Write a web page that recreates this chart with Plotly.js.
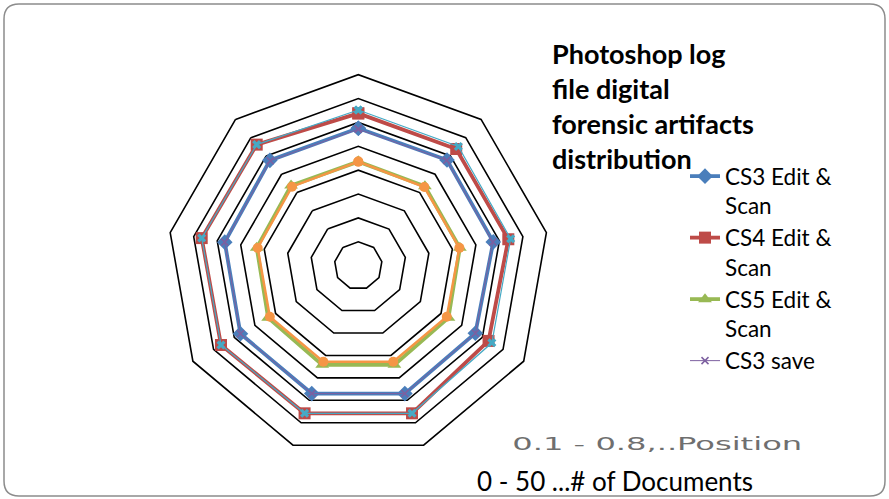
<!DOCTYPE html>
<html>
<head>
<meta charset="utf-8">
<script src="https://cdn.plot.ly/plotly-3.0.1.min.js"></script>
<style>html,body{margin:0;padding:0;background:#fff;}#chart{width:889px;height:499px;}</style>
</head>
<body>
<div id="chart"></div>
<script>
// Nine positions around the radar (labels not shown in the original)
var categories = ['P1','P2','P3','P4','P5','P6','P7','P8','P9'];

// Number of documents per position (axis 0-40)
var cs3EditScan = [28.8, 28.9, 28.7, 28.3, 28.5, 28.5, 28.5, 28.4, 28.8];
var cs4EditScan = [31.9, 31.9, 31.9, 31.5, 32.9, 32.9, 33.2, 33.3, 33.1];
var cs5EditScan = [21.8, 21.7, 21.6, 21.8, 22.1, 22.1, 21.8, 21.6, 21.9];
var cs3Save     = [28.6, 28.8, 28.6, 28.3, 28.5, 28.5, 28.5, 28.4, 28.7];
var cs4Save     = [32.6, 32.6, 32.4, 32.3, 32.9, 32.9, 33.2, 33.3, 33.1];
var cs5Save     = [21.8, 21.5, 21.5, 21.4, 21.4, 21.4, 21.4, 21.4, 21.6];

var seriesNames = ['CS3 Edit &<br>Scan', 'CS4 Edit &<br>Scan', 'CS5 Edit &<br>Scan', 'CS3 save', 'CS4 save', 'CS5 save'];

function closed(a){ return a.concat([a[0]]); }
var theta = closed(categories);

function tr(name, vals, color, width, symbol, msize, showleg){
  return {
    type: 'scatterpolar', mode: 'lines+markers', name: name,
    r: closed(vals), theta: theta,
    line: {color: color, width: width},
    marker: {symbol: symbol, size: msize, color: color, line: {width: 0}},
    showlegend: showleg, hoverinfo: 'skip'
  };
}

var data = [
  tr(seriesNames[0], cs3EditScan, '#4A7EBB', 3.8, 'diamond', 12, true),
  tr(seriesNames[1], cs4EditScan, '#BE4B48', 3.8, 'square', 12, true),
  tr(seriesNames[2], cs5EditScan, '#98B954', 3.8, 'triangle-up', 12, true),
  tr(seriesNames[3], cs3Save, '#7D60A0', 1, 'x-thin-open', 7, true),
  tr(seriesNames[4], cs4Save, '#46AAC5', 1.2, 'x', 8, false),
  tr(seriesNames[5], cs5Save, '#F59645', 2.5, 'circle', 10, false)
];
data[3].marker.line = {width: 1.5, color: '#7D60A0'};

var W = 889, H = 499;
var cx = 358.3, cy = 265.7, R = 191;

// rounded frame
var x0 = 4, x1 = 885, y0 = 4, y1 = 496, rr = 15;
function px(x){ return (x / W).toFixed(5); }
function py(y){ return (1 - y / H).toFixed(5); }
var framePath = 'M ' + px(x0 + rr) + ' ' + py(y0) +
  ' L ' + px(x1 - rr) + ' ' + py(y0) +
  ' Q ' + px(x1) + ' ' + py(y0) + ' ' + px(x1) + ' ' + py(y0 + rr) +
  ' L ' + px(x1) + ' ' + py(y1 - rr) +
  ' Q ' + px(x1) + ' ' + py(y1) + ' ' + px(x1 - rr) + ' ' + py(y1) +
  ' L ' + px(x0 + rr) + ' ' + py(y1) +
  ' Q ' + px(x0) + ' ' + py(y1) + ' ' + px(x0) + ' ' + py(y1 - rr) +
  ' L ' + px(x0) + ' ' + py(y0 + rr) +
  ' Q ' + px(x0) + ' ' + py(y0) + ' ' + px(x0 + rr) + ' ' + py(y0) + ' Z';

var layout = {
  width: W, height: H,
  margin: {l: 0, r: 0, t: 0, b: 0},
  paper_bgcolor: '#ffffff',
  plot_bgcolor: '#ffffff',
  font: {family: 'Lato, "Open Sans", sans-serif', color: '#000'},
  title: {
    text: '<b>Photoshop log<br>file digital<br>forensic artifacts<br>distribution</b>',
    x: 552 / W, xanchor: 'left', xref: 'paper',
    y: 1 - 64 / H, yanchor: 'top', yref: 'paper',
    font: {family: 'Lato, sans-serif', size: 27, color: '#000'}
  },
  polar: {
    domain: {x: [(cx - R) / W, (cx + R) / W], y: [1 - (cy + R) / H, 1 - (cy - R) / H]},
    bgcolor: 'rgba(0,0,0,0)',
    gridshape: 'linear',
    angularaxis: {
      direction: 'clockwise', rotation: 90, type: 'category',
      showline: true, linecolor: '#000', linewidth: 1.6,
      showgrid: false, showticklabels: false, ticks: ''
    },
    radialaxis: {
      range: [0, 40], dtick: 5, tick0: 0,
      showline: false, showticklabels: false, ticks: '',
      showgrid: true, gridcolor: '#000', gridwidth: 1.6
    }
  },
  showlegend: true,
  legend: {
    x: 685 / W, xanchor: 'left', y: 1 - 155 / H, yanchor: 'top',
    font: {family: 'Lato, sans-serif', size: 22.5, color: '#000'},
    bgcolor: 'rgba(0,0,0,0)', valign: 'top',
    itemwidth: 30
  },
  annotations: [
    {text: '0.1 - 0.8,..Position', xref: 'paper', yref: 'paper',
     x: 657 / W, y: 1 - 443 / H, xanchor: 'center', yanchor: 'middle', showarrow: false,
     font: {family: '"DejaVu Sans", sans-serif', size: 18, color: '#6f6f6f'}},
    {text: '0 - 50 ...# of Documents', xref: 'paper', yref: 'paper',
     x: 615 / W, y: 1 - 481 / H, xanchor: 'center', yanchor: 'middle', showarrow: false,
     font: {family: 'Lato, sans-serif', size: 26, color: '#000'}}
  ],
  shapes: [
    {type: 'path', xref: 'paper', yref: 'paper', path: framePath,
     line: {color: '#8c8c8c', width: 1.5}, fillcolor: 'rgba(0,0,0,0)', layer: 'below'}
  ]
};

Plotly.newPlot('chart', data, layout, {staticPlot: true, displayModeBar: false}).then(function(gd){
  // the original "Position" note is drawn in a horizontally stretched face
  var texts = gd.querySelectorAll('.annotation-text');
  texts.forEach(function(t){
    if (t.textContent.indexOf('Position') >= 0) {
      var bb = t.getBBox();
      var c = bb.x + bb.width / 2;
      var s = 290 / bb.width;
      t.setAttribute('transform', 'translate(' + c + ',0) scale(' + s + ',1) translate(' + (-c) + ',0)');
    }
  });
});
</script>
</body>
</html>
